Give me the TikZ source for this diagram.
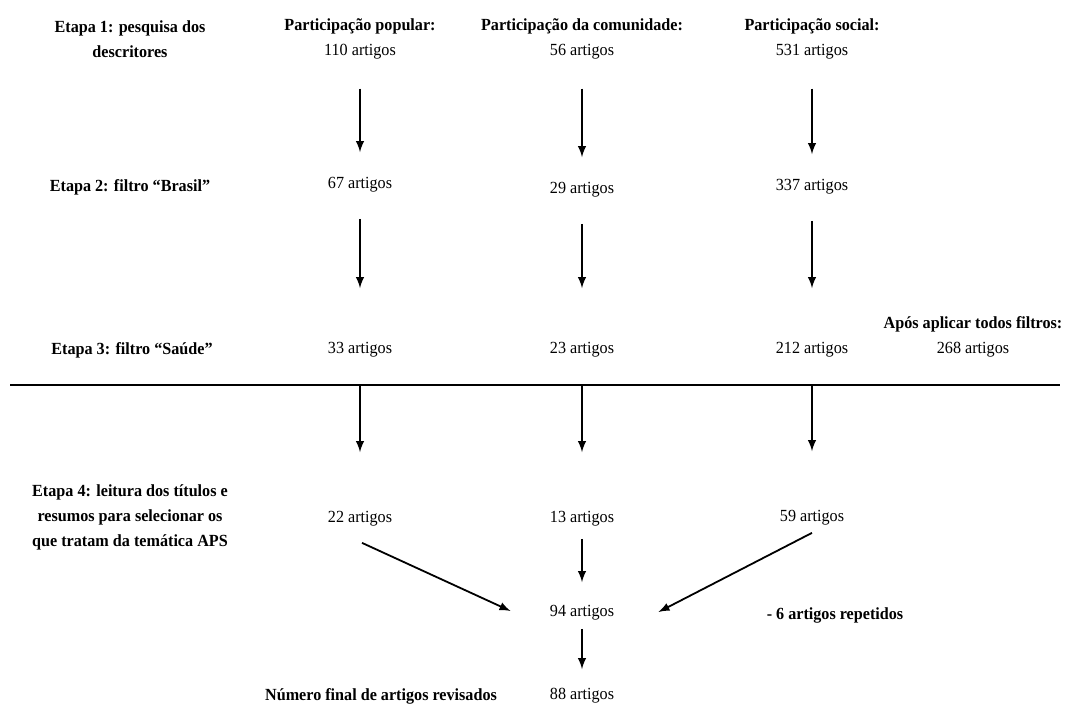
\documentclass[tikz,border=0pt]{standalone}
\usepackage{fontspec}
\setmainfont{Liberation Serif}[FakeStretch=0.95]
\usetikzlibrary{arrows,positioning,calc}

\tikzset{
  texto/.style={inner sep=0pt, align=center, font=\fontsize{8.5}{12.5}\selectfont},
  etapa/.style={texto, font=\fontsize{8.5}{12.5}\selectfont\bfseries},
  seta/.style={-latex, line width=0.9pt},
}

\begin{document}
\begin{tikzpicture}[x=0.5pt,y=-0.5pt]
\useasboundingbox (0,0) rectangle (1065,704);

% Etapa 1: descritores
\node[etapa] (ep1) at (130,39) {Etapa 1: pesquisa dos\\descritores};
\node[texto] (pop1) at (360,39) {\textbf{Participação popular:}\\110 artigos};
\node[texto] (com1) at (582,39) {\textbf{Participação da comunidade:}\\56 artigos};
\node[texto] (soc1) at (812,39) {\textbf{Participação social:}\\531 artigos};

% Etapa 2: filtro Brasil
\node[etapa] (ep2) at (130,187) {Etapa 2: filtro “Brasil”};
\node[texto] (pop2) at (360,185) {67 artigos};
\node[texto] (com2) at (582,190) {29 artigos};
\node[texto] (soc2) at (812,187) {337 artigos};

% Etapa 3: filtro Saude
\node[etapa] (ep3) at (132,350) {Etapa 3: filtro “Saúde”};
\node[texto] (pop3) at (360,350) {33 artigos};
\node[texto] (com3) at (582,350) {23 artigos};
\node[texto] (soc3) at (812,350) {212 artigos};
\node[texto] (todos) at (973,337) {\textbf{Após aplicar todos filtros:}\\268 artigos};

% linha de separacao
\coordinate (linhaE) at (10,385);
\coordinate (linhaD) at (1060,385);
\draw[line width=0.9pt] (linhaE) -- (linhaD);

% Etapa 4: leitura
\node[etapa] (ep4) at (130,517) {Etapa 4: leitura dos títulos e\\resumos para selecionar os\\que tratam da temática APS};
\node[texto] (pop4) at (360,519) {22 artigos};
\node[texto] (com4) at (582,519) {13 artigos};
\node[texto] (soc4) at (812,518) {59 artigos};

% total
\node[texto] (tot) at (582,613) {94 artigos};
\node[etapa] (rep) at (835,615) {- 6 artigos repetidos};
\node[texto] (fin) at (582,696) {88 artigos};
\node[etapa] (numfin) at (381,696) {Número final de artigos revisados};

% setas
\foreach \c in {pop,com,soc}{
  \draw[seta, shorten <=14.5pt, shorten >=12.5pt] (\c1) -- (\c2);
  \draw[seta, shorten <=13pt, shorten >=27pt] (\c2) -- (\c3);
  \coordinate (l\c) at (\c3 |- linhaE);
  \draw[seta, shorten >=29.5pt] (l\c) -- (\c4);
}
\draw[seta, shorten <=6pt, shorten >=11.5pt] (com4) -- (tot);
\draw[seta] ([shift={(1pt,-8pt)}]pop4.south) -- ([shift={(-19.5pt,1pt)}]tot.west);
\draw[seta] ([shift={(0pt,-3.5pt)}]soc4.south) -- ([shift={(22pt,0.5pt)}]tot.east);
\draw[seta, shorten <=4pt, shorten >=9.5pt] (tot) -- (fin);
\end{tikzpicture}
\end{document}
